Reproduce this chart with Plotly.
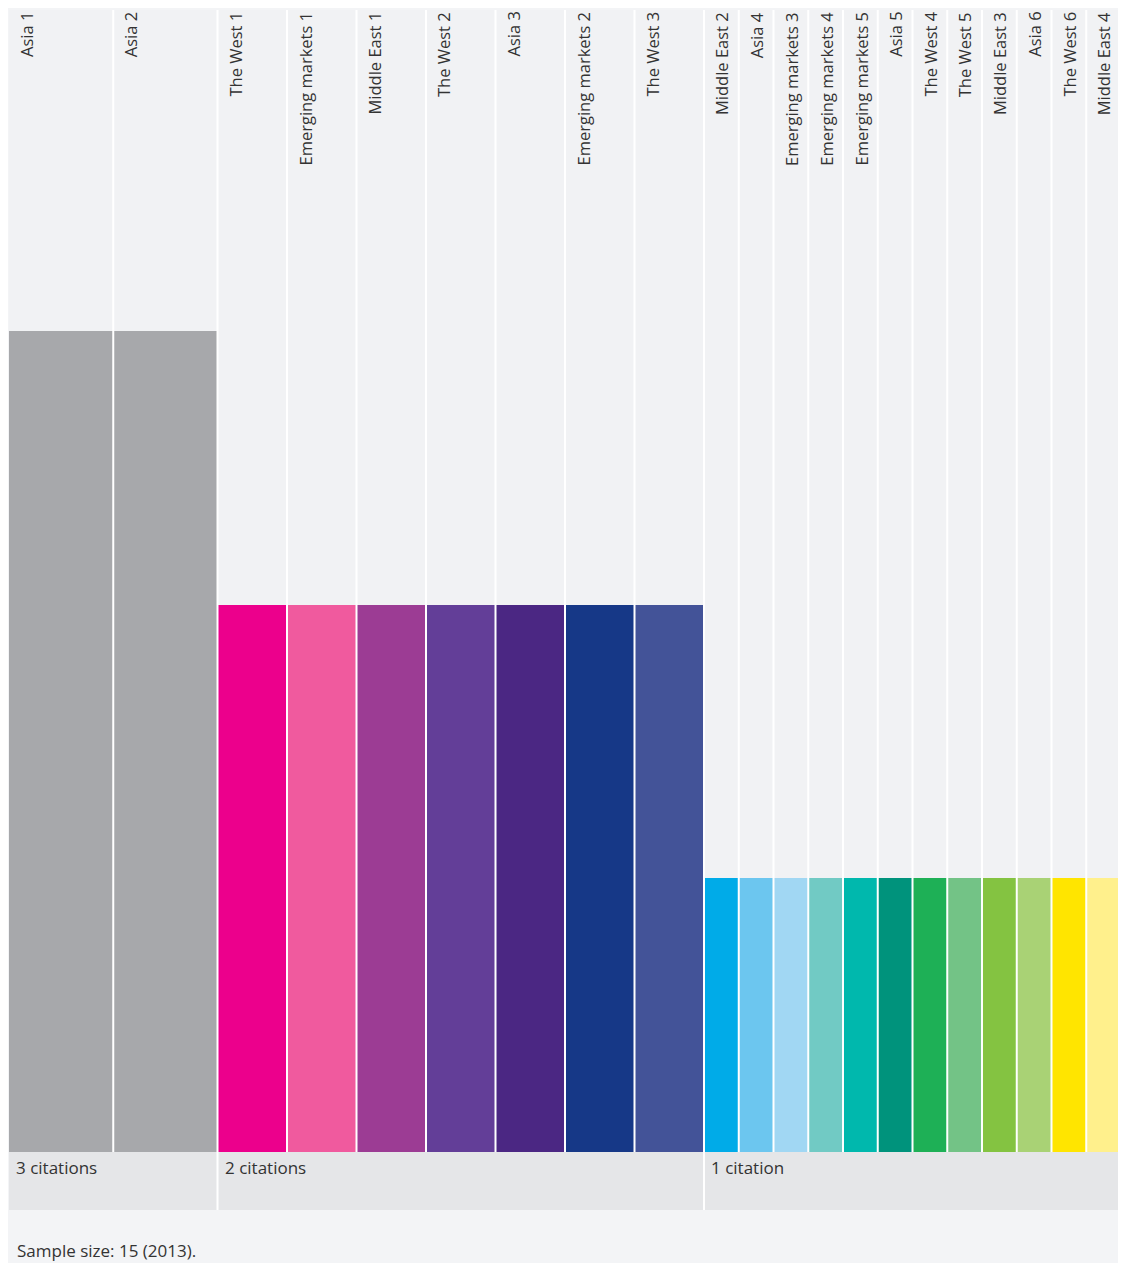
import plotly.graph_objects as go
import numpy as np

categories = ["Asia 1", "Asia 2", "The West 1", "Emerging markets 1", "Middle East 1",
              "The West 2", "Asia 3", "Emerging markets 2", "The West 3", "Middle East 2",
              "Asia 4", "Emerging markets 3", "Emerging markets 4", "Emerging markets 5",
              "Asia 5", "The West 4", "The West 5", "Middle East 3", "Asia 6",
              "The West 6", "Middle East 4"]
citations = [3, 3, 2, 2, 2, 2, 2, 2, 2, 1, 1, 1, 1, 1, 1, 1, 1, 1, 1, 1, 1]
colors = ["#a7a8ab", "#a7a8ab", "#ec008c", "#f05a9e", "#9c3c94", "#633e98", "#4b2783",
          "#163887", "#435398", "#00abe8", "#6cc6ef", "#a1d7f3", "#71cac4", "#00b8ad",
          "#00937c", "#1eb056", "#73c386", "#84c341", "#a9d275", "#ffe500", "#fff08c"]
group_values = [3, 2, 1]
group_labels = ["3 citations", "2 citations", "1 citation"]
footnote = "Sample size: 15 (2013)."

vals = np.array(citations, dtype=float)
lefts = np.concatenate([[0], np.cumsum(vals)[:-1]])
centers = lefts + vals / 2
total = vals.sum()

y_top = 4.174
band = 0.212

FONT = "Open Sans"
TXT = "#333333"

fig = go.Figure()
fig.add_trace(go.Bar(
    x=centers, y=vals, width=vals, base=0,
    marker=dict(color=colors, line=dict(width=0)),
    hoverinfo="text", hovertext=[f"{c}: {v}" for c, v in zip(categories, citations)],
    showlegend=False,
))

shapes = []
# group bands
for g in group_values:
    idx = [i for i, v in enumerate(citations) if v == g]
    x0 = lefts[idx[0]]
    x1 = lefts[idx[-1]] + vals[idx[-1]]
    shapes.append(dict(type="rect", xref="x", yref="y", x0=x0, x1=x1, y0=-band, y1=0,
                       fillcolor="#e5e6e8", line=dict(width=0), layer="below"))
# column dividers
for i in range(1, len(citations)):
    x = lefts[i]
    y0 = -band if citations[i] != citations[i - 1] else 0
    shapes.append(dict(type="line", xref="x", yref="y", x0=x, x1=x, y0=y0, y1=y_top,
                       line=dict(color="white", width=2), layer="above"))

annotations = []
for c, l in zip(categories, lefts):
    annotations.append(dict(x=l, y=1, xref="x", yref="paper", text=c, showarrow=False,
                            xanchor="left", yanchor="top", xshift=4, yshift=0,
                            textangle=-90, font=dict(family=FONT, size=16.5, color=TXT)))
for g, lab in zip(group_values, group_labels):
    idx = [i for i, v in enumerate(citations) if v == g]
    annotations.append(dict(x=lefts[idx[0]], y=0, xref="x", yref="y", text=lab,
                            showarrow=False, xanchor="left", yanchor="top",
                            xshift=5, yshift=-2,
                            font=dict(family=FONT, size=17, color=TXT)))
annotations.append(dict(x=0, y=0, xref="paper", yref="paper", text=footnote,
                        showarrow=False, xanchor="left", yanchor="middle",
                        xshift=6, yshift=-40,
                        font=dict(family=FONT, size=17, color=TXT)))

fig.update_layout(
    width=1118, height=1255,
    margin=dict(l=1, r=5, t=2, b=53),
    paper_bgcolor="#f3f4f6", plot_bgcolor="#f1f2f4",
    xaxis=dict(range=[0, total], showgrid=False, zeroline=False, showticklabels=False,
               ticks="", fixedrange=True),
    yaxis=dict(range=[-band, y_top], showgrid=False, zeroline=False, showticklabels=False,
               ticks="", fixedrange=True),
    bargap=0,
    shapes=shapes,
    annotations=annotations,
)

fig.write_html("out.html")
